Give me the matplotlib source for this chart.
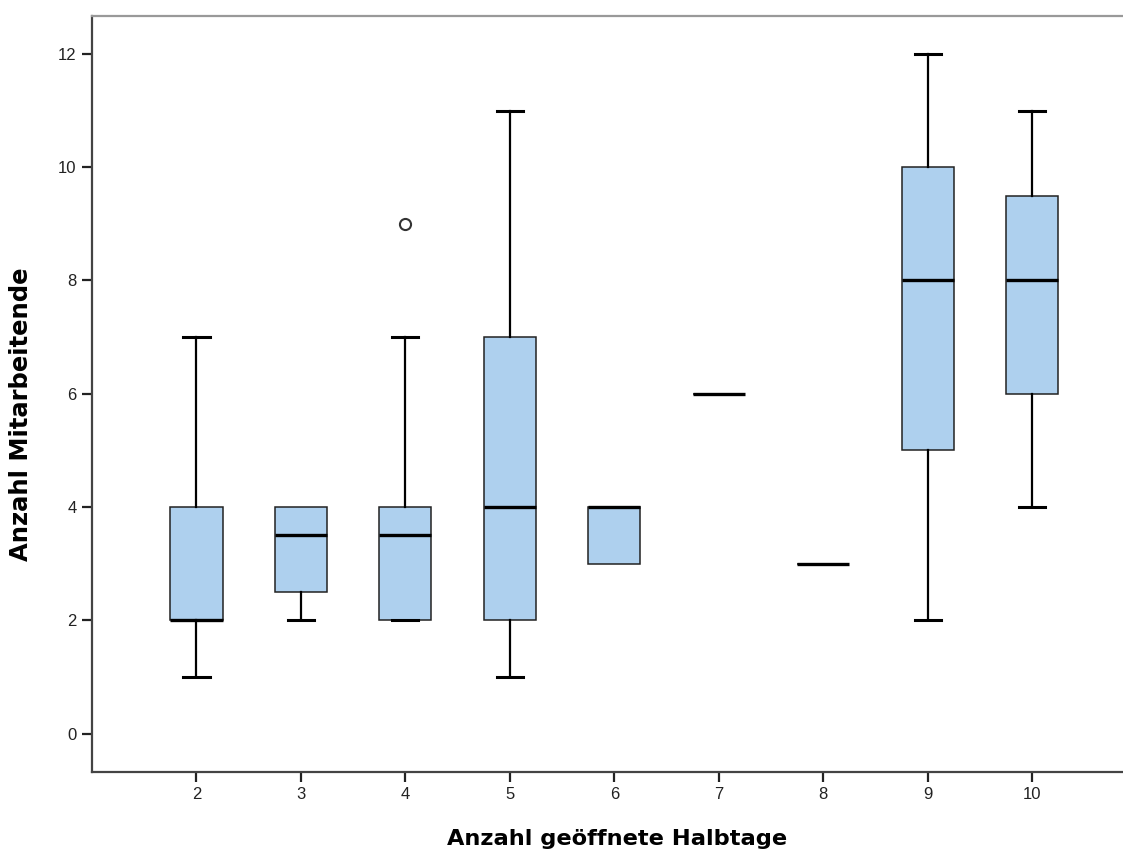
import matplotlib
matplotlib.use("Agg")
import matplotlib.pyplot as plt

plt.rcParams['font.family'] = ['Liberation Sans', 'DejaVu Sans']

# Halbtage (x) und Kennwerte der Boxplots
halbtage = [2, 3, 4, 5, 6, 7, 8, 9, 10]
minimum = [1, 2, 2, 1, 3, 6, 3, 2, 4]
q1 = [2, 2.5, 2, 2, 3, 6, 3, 5, 6]
median = [2, 3.5, 3.5, 4, 4, 6, 3, 8, 8]
q3 = [4, 4, 4, 7, 4, 6, 3, 10, 9.5]
maximum = [7, 4, 7, 11, 4, 6, 3, 12, 11]
ausreisser = [[], [], [9], [], [], [], [], [], []]

box_farbe = '#aed0ee'

stats = []
for i in range(len(halbtage)):
    stats.append({
        'whislo': minimum[i], 'q1': q1[i], 'med': median[i],
        'q3': q3[i], 'whishi': maximum[i], 'fliers': ausreisser[i],
    })

fig = plt.figure(figsize=(11.23, 8.49), dpi=100)
ax = fig.add_axes([92 / 1123, 77.5 / 849, 1 - 92 / 1123, (771.5 - 16) / 849])

res = ax.bxp(stats, positions=halbtage, widths=0.5, patch_artist=True,
             boxprops=dict(facecolor=box_farbe, edgecolor='#222222', linewidth=1.1),
             medianprops=dict(color='black', linewidth=2.4),
             whiskerprops=dict(color='black', linewidth=1.6),
             capprops=dict(color='black', linewidth=2.2),
             flierprops=dict(marker='o', markersize=8, markerfacecolor='none',
                             markeredgecolor='#333333', markeredgewidth=1.5),
             capwidths=0.25)

# Kappen ohne Whisker ausblenden
for i in range(len(halbtage)):
    if minimum[i] == q1[i] and i != 2:
        res['caps'][2 * i].set_visible(False)
    if maximum[i] == q3[i]:
        res['caps'][2 * i + 1].set_visible(False)

ax.set_xlim(1, 10.87)
ax.set_ylim(-0.67, 12.67)
ax.set_xticks(halbtage)
ax.set_xticklabels([str(h) for h in halbtage])
ax.set_yticks([0, 2, 4, 6, 8, 10, 12])

ax.spines['right'].set_visible(False)
ax.spines['left'].set_color('#444444')
ax.spines['bottom'].set_color('#444444')
ax.spines['top'].set_color('#999999')
for s in ['left', 'bottom', 'top']:
    ax.spines[s].set_linewidth(1.6)

ax.tick_params(axis='both', colors='#222222', labelsize=12, width=1.6, length=7, pad=4)

ax.set_xlabel('Anzahl geöffnete Halbtage', fontsize=16.2, fontweight='bold',
              family='DejaVu Sans')
ax.set_ylabel('Anzahl Mitarbeitende', fontsize=17.5, fontweight='bold',
              family='DejaVu Sans')
ax.xaxis.set_label_coords(0.509, -0.076)
ax.yaxis.set_label_coords(-0.057, 0.473)

fig.savefig('out.png', dpi=100)
